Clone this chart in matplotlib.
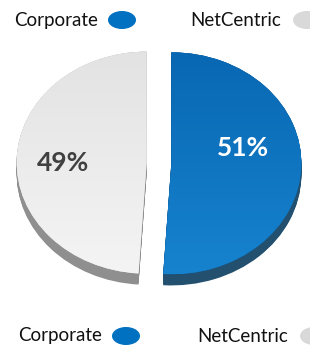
import numpy as np
import matplotlib.pyplot as plt
from matplotlib.patches import Ellipse
from matplotlib.colors import LinearSegmentedColormap

labels = ['Corporate', 'NetCentric']
values = [51, 49]
top_cols = [('#0866b1', '#1784d0'), ('#e2e2e2', '#f5f5f5')]
side_cols = ['#23506f', '#8f8f8f']
legend_cols = ['#0070c0', '#d9d9d9']
pct_cols = ['white', '#404040']

plt.rcParams['font.family'] = ['Lato', 'DejaVu Sans']

W, H = 310, 347
fig = plt.figure(figsize=(W / 100, H / 100), dpi=100)

# pie axes, squashed so the pie looks tilted
cx, cy, rx, ry = 159, 163, 143, 111
ax = fig.add_axes([(cx - rx) / W, 1 - (cy + ry) / H, 2 * rx / W, 2 * ry / H])
ax.axis('off')

expl = [0.095, 0.095]
depth = 0.1

# side (extrusion): stack of darker pies
for k in np.linspace(-depth, 0, 14):
    ax.pie(values, startangle=90, counterclock=False, explode=expl,
           colors=side_cols, center=(0, k), radius=1,
           wedgeprops=dict(linewidth=0))

wedges, _ = ax.pie(values, startangle=90, counterclock=False, explode=expl,
                   colors=[c[0] for c in top_cols], radius=1,
                   wedgeprops=dict(linewidth=0))

# gradient fill on top faces
grad = np.linspace(0, 1, 200).reshape(-1, 1)
for w, (c0, c1) in zip(wedges, top_cols):
    cm = LinearSegmentedColormap.from_list('g', [c0, c1])
    im = ax.imshow(grad, cmap=cm, extent=(-1.2, 1.2, -1.1, 1.1),
                   aspect='auto', zorder=w.get_zorder() + 0.1, origin='upper')
    im.set_clip_path(w)
ax.set_aspect('auto')
ax.set_xlim(-1.1, 1.1)
ax.set_ylim(-1.0, 1.0)

ax.text(0.645, 0.135, f'{values[0]}%', color=pct_cols[0], fontsize=19,
        fontweight='bold', ha='center', va='center', zorder=10)
ax.text(-0.74, 0.0, f'{values[1]}%', color=pct_cols[1], fontsize=19,
        fontweight='bold', ha='center', va='center', zorder=10)

# legends (top and bottom), drawn in pixel coords
lg = fig.add_axes([0, 0, 1, 1], facecolor='none')
lg.set_xlim(0, W)
lg.set_ylim(H, 0)
lg.axis('off')
rows = [(20, [14, 190], [122, 307]), (336, [18, 197], [126, 314])]
for y, tx, ex in rows:
    for i in range(2):
        lg.text(tx[i], y, labels[i], fontsize=13.5, ha='left', va='center',
                color='#111111')
        lg.add_patch(Ellipse((ex[i], y), 28, 18, color=legend_cols[i], lw=0))

fig.savefig('out.png', dpi=100)
